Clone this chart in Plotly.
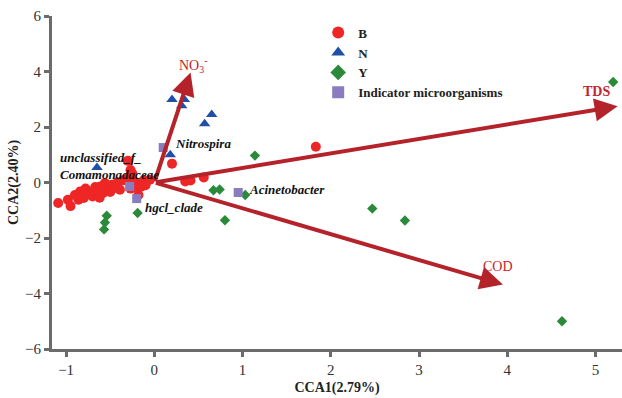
import plotly.graph_objects as go

# ---- data ----
B_x = [-1.09, -0.98, -0.95, -0.90, -0.86, -0.84, -0.80, -0.78, -0.76, -0.72, -0.70, -0.67,
       -0.65, -0.62, -0.61, -0.58, -0.56, -0.53, -0.50, -0.48, -0.45, -0.42, -0.39, -0.35,
       -0.30, -0.30, -0.27, -0.27, -0.25, -0.22, -0.19, -0.18, -0.15, -0.12, -0.10, -0.05,
       0.20, 0.35, 0.41, 0.56, 1.83]
B_y = [-0.74, -0.62, -0.85, -0.45, -0.62, -0.32, -0.56, -0.22, -0.30, -0.42, -0.50, -0.16,
       -0.28, -0.55, -0.14, -0.38, -0.02, -0.24, -0.34, -0.08, -0.20, 0.00, -0.26, 0.08,
       0.16, 0.78, 0.45, -0.22, 0.32, 0.02, -0.20, -0.45, -0.15, 0.08, -0.10, 0.10,
       0.68, 0.04, 0.07, 0.18, 1.29]

N_x = [0.20, 0.34, 0.31, 0.65, 0.57, 0.18, -0.65]
N_y = [2.99, 2.99, 2.77, 2.45, 2.12, 1.00, 0.54]

Y_x = [5.20, 4.62, 1.14, 0.67, 0.74, 1.03, 0.80, 2.47, 2.84, -0.19, -0.54, -0.56, -0.57]
Y_y = [3.62, -5.00, 0.97, -0.28, -0.25, -0.45, -1.36, -0.94, -1.37, -1.10, -1.20, -1.44, -1.69]

ind_names = ["Nitrospira", "unclassified_f_<br>Comamonadaceae", "hgcl_clade", "Acinetobacter"]
ind_x = [0.10, -0.28, -0.20, 0.95]
ind_y = [1.26, -0.14, -0.58, -0.36]
ind_label_x = [0.21, -1.09, -0.13, 1.05]
ind_label_y = [1.40, 0.58, -0.90, -0.25]

env_names = ["NO<sub>3</sub><sup>-</sup>", "<b>TDS</b>", "COD"]
env_x = [0.41, 5.25, 3.95]
env_y = [3.96, 2.75, -3.68]
env_label_x = [0.44, 5.01, 3.90]
env_label_y = [4.22, 3.27, -3.02]

x_ticks = [-1, 0, 1, 2, 3, 4, 5]
y_ticks = [-6, -4, -2, 0, 2, 4, 6]

SERIF = "Liberation Serif"
ARROW = "#b5232a"

fig = go.Figure()
fig.add_trace(go.Scatter(x=B_x, y=B_y, mode="markers", name="B",
                         marker=dict(symbol="circle", size=10, color="#ee2626")))
fig.add_trace(go.Scatter(x=N_x, y=N_y, mode="markers", name="N",
                         marker=dict(symbol="triangle-up", size=10, color="#1f4fa6")))
fig.add_trace(go.Scatter(x=Y_x, y=Y_y, mode="markers", name="Y",
                         marker=dict(symbol="diamond", size=8, color="#2b8a3a")))
fig.add_trace(go.Scatter(x=ind_x, y=ind_y, mode="markers", name="Indicator microorganisms",
                         marker=dict(symbol="square", size=9, color="#8a7dbf")))

annotations = []
for n, x, y, lx, ly in zip(env_names, env_x, env_y, env_label_x, env_label_y):
    annotations.append(dict(x=x, y=y, ax=0, ay=0, xref="x", yref="y", axref="x", ayref="y",
                            showarrow=True, arrowhead=2, arrowsize=1.15, arrowwidth=4,
                            arrowcolor=ARROW, standoff=0, text=""))
    annotations.append(dict(x=lx, y=ly, xref="x", yref="y", text=n, showarrow=False,
                            font=dict(family=SERIF, size=14, color="#c3242b")))
for n, lx, ly in zip(ind_names, ind_label_x, ind_label_y):
    annotations.append(dict(x=lx, y=ly, xref="x", yref="y", text="<b><i>" + n + "</i></b>",
                            showarrow=False, xanchor="left", yanchor="middle", align="left",
                            font=dict(family=SERIF, size=13, color="#111111")))

axis_common = dict(showgrid=False, zeroline=False, showline=True, linewidth=3,
                   linecolor="#6b6b6b", ticks="outside", ticklen=5, tickwidth=3,
                   tickcolor="#6b6b6b", tickfont=dict(family=SERIF, size=15, color="#333333"))

fig.update_layout(
    width=622, height=398,
    margin=dict(l=52, r=0, t=16, b=49),
    plot_bgcolor="white", paper_bgcolor="white",
    xaxis=dict(range=[-1.16, 5.3], tickvals=x_ticks,
               title=dict(text="<b>CCA1(2.79%)</b>", font=dict(family=SERIF, size=14, color="#222222"),
                          standoff=6),
               **axis_common),
    yaxis=dict(range=[-6, 6], tickvals=y_ticks,
               title=dict(text="<b>CCA2(2.40%)</b>", font=dict(family=SERIF, size=14, color="#222222"),
                          standoff=4),
               **axis_common),
    legend=dict(x=0.467, y=0.995, xanchor="left", yanchor="top", bgcolor="rgba(0,0,0,0)",
                font=dict(family=SERIF, size=13, color="#222222", weight="bold"),
                tracegroupgap=0, itemsizing="constant"),
    annotations=annotations,
    showlegend=True,
)

fig.write_html("out.html")
